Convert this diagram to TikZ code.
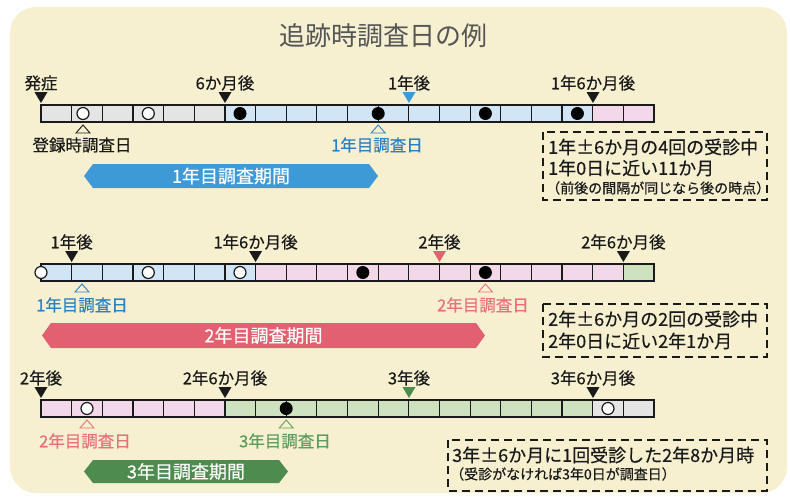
\documentclass[tikz,border=0pt]{standalone}
\usepackage{fontspec}
\setmainfont{Noto Sans CJK JP}
\newfontfamily\medfont{Noto Sans CJK JP}[FakeBold=0.5]
\definecolor{cream}{HTML}{F7F0D0}
\definecolor{cgray}{HTML}{E4E4E4}
\definecolor{cblue}{HTML}{D2E5F5}
\definecolor{cpink}{HTML}{F3D8EA}
\definecolor{cgreen}{HTML}{CFE2C0}
\definecolor{bblue}{HTML}{3E9AD6}
\definecolor{tblue}{HTML}{2B80C2}
\definecolor{bpink}{HTML}{E2606F}
\definecolor{tpink}{HTML}{E8707E}
\definecolor{bgreen}{HTML}{4D8B4F}
\definecolor{tgreen}{HTML}{5E9C5E}
\definecolor{titlegray}{HTML}{555555}
\definecolor{ink}{HTML}{1A1A1A}
\newcommand\cw{30.65}
\newcommand\tmark[3]{\fill[#3] ({#1-6.5},{#2-13}) -- ({#1+6.5},{#2-13}) -- ({#1},{#2-2}) -- cycle;}
\newcommand\omark[3]{\draw[#3, line width=0.9pt] ({#1},{#2+3}) -- ({#1+7},{#2+11}) -- ({#1-7},{#2+11}) -- cycle;}
\newcommand\band[6]{\fill[#5] (#1,{(#3+#4)/2}) -- ({#1+9},#3) -- ({#2-9},#3) -- (#2,{(#3+#4)/2}) -- ({#2-9},#4) -- ({#1+9},#4) -- cycle;
  \node[bandtxt] at ({(#1+#2)/2},{(#3+#4)/2}) {#6};}
\tikzset{
  lbl/.style={font=\medfont\fontsize{16.5}{18}\selectfont, text=ink, inner sep=0pt},
  bandtxt/.style={font=\medfont\fontsize{18}{20}\selectfont, text=white, inner sep=0pt},
  boxtxt/.style={font=\medfont\fontsize{18}{20}\selectfont, text=ink, inner sep=0pt, anchor=west},
  smalltxt/.style={font=\medfont\fontsize{14}{16}\selectfont, text=ink, inner sep=0pt, anchor=west},
  dbox/.style={draw=ink, line width=2.4pt, dash pattern=on 8pt off 5pt},
  barline/.style={draw=ink, line width=1.2pt},
  opendot/.style={circle, draw=ink, fill=white, line width=1.2pt, minimum size=12pt, inner sep=0pt},
  fulldot/.style={circle, fill=black, minimum size=13pt, inner sep=0pt},
}
\begin{document}
\begin{tikzpicture}[x=1pt,y=-1pt]
\useasboundingbox (0,0) rectangle (790,499);
\fill[cream, rounded corners=26pt] (10,7) rectangle (787,493);
\node[font=\fontsize{26}{28}\selectfont, text=titlegray, inner sep=0pt] (title) at (383,36) {追跡時調査日の例};

% ---------- Row 1 ----------
\fill[cgray] (41,105) rectangle ({41+6*\cw},122);
\fill[cblue] ({41+6*\cw},105) rectangle ({41+18*\cw},122);
\fill[cpink] ({41+18*\cw},105) rectangle (654,122);
\draw[barline] (41,105) rectangle (654,122);
\foreach \i in {1,...,19} \draw[barline] ({41+\i*\cw},105) -- ({41+\i*\cw},122);
\tmark{41}{105}{ink}
\tmark{225}{105}{ink}
\tmark{409}{105}{bblue}
\tmark{593}{105}{ink}
\node[lbl] (a0) at (41,83) {発症};
\node[lbl] (a6) at (225,83) {6か月後};
\node[lbl] (a12) at (409,83) {1年後};
\node[lbl] (a18) at (593,83) {1年6か月後};
\node[opendot] (c11) at (83,113.5) {};
\node[opendot] (c12) at (148.3,113.5) {};
\node[fulldot] (c13) at (240,113.5) {};
\node[fulldot] (c14) at (378.2,113.5) {};
\node[fulldot] (c15) at (485.4,113.5) {};
\node[fulldot] (c16) at (577.4,113.5) {};
\omark{83}{122}{ink}
\omark{378.2}{122}{tblue}
\node[lbl] (d11) at (82,145) {登録時調査日};
\node[lbl, text=tblue] (d12) at (377,145) {1年目調査日};
\band{84}{378}{164}{188}{bblue}{1年目調査期間}
\draw[dbox] (543,132) rectangle (767,200);
\node[boxtxt] (b11) at (548,147) {1年±6か月の4回の受診中};
\node[boxtxt] (b12) at (548,168) {1年0日に近い11か月};
\node[smalltxt] (b13) at (546,188) {（前後の間隔が同じなら後の時点）};

% ---------- Row 2 ----------
\fill[cblue] (41,264) rectangle ({41+7*\cw},281);
\fill[cpink] ({41+7*\cw},264) rectangle ({41+19*\cw},281);
\fill[cgreen] ({41+19*\cw},264) rectangle (654,281);
\draw[barline] (41,264) rectangle (654,281);
\foreach \i in {1,...,19} \draw[barline] ({41+\i*\cw},264) -- ({41+\i*\cw},281);
\tmark{71.65}{264}{ink}
\tmark{255.6}{264}{ink}
\tmark{439.5}{264}{bpink}
\tmark{623.4}{264}{ink}
\node[lbl] (e1) at (71.65,242) {1年後};
\node[lbl] (e2) at (255.6,242) {1年6か月後};
\node[lbl] (e3) at (439.5,242) {2年後};
\node[lbl] (e4) at (623.4,242) {2年6か月後};
\node[opendot] (c21) at (41,272.5) {};
\node[opendot] (c22) at (148.3,272.5) {};
\node[opendot] (c23) at (240,272.5) {};
\node[fulldot] (c24) at (362.8,272.5) {};
\node[fulldot] (c25) at (485.4,272.5) {};
\omark{82}{281}{tblue}
\omark{485.4}{281}{tpink}
\node[lbl, text=tblue] (d21) at (82,305) {1年目調査日};
\node[lbl, text=tpink] (d22) at (483,305) {2年目調査日};
\band{42}{485}{323}{348}{bpink}{2年目調査期間}
\draw[dbox] (543,304) rectangle (767,357);
\node[boxtxt] (b21) at (548,319) {2年±6か月の2回の受診中};
\node[boxtxt] (b22) at (548,341) {2年0日に近い2年1か月};

% ---------- Row 3 ----------
\fill[cpink] (41,400) rectangle ({41+6*\cw},417);
\fill[cgreen] ({41+6*\cw},400) rectangle ({41+18*\cw},417);
\fill[cgray] ({41+18*\cw},400) rectangle (654,417);
\draw[barline] (41,400) rectangle (654,417);
\foreach \i in {1,...,19} \draw[barline] ({41+\i*\cw},400) -- ({41+\i*\cw},417);
\tmark{41}{400}{ink}
\tmark{225}{400}{ink}
\tmark{409}{400}{bgreen}
\tmark{593}{400}{ink}
\node[lbl] (f1) at (41,378) {2年後};
\node[lbl] (f2) at (225,378) {2年6か月後};
\node[lbl] (f3) at (409,378) {3年後};
\node[lbl] (f4) at (593,378) {3年6か月後};
\node[opendot] (c31) at (87,408.5) {};
\node[fulldot] (c32) at (286.2,408.5) {};
\node[opendot] (c33) at (608,408.5) {};
\omark{87}{417}{tpink}
\omark{286.2}{417}{tgreen}
\node[lbl, text=tpink] (d31) at (85,441) {2年目調査日};
\node[lbl, text=tgreen] (d32) at (285,441) {3年目調査日};
\band{84}{288}{460}{483}{bgreen}{3年目調査期間}
\draw[dbox] (448,440) rectangle (767,491);
\node[boxtxt] (b31) at (452,455) {3年±6か月に1回受診した2年8か月時};
\node[smalltxt] (b32) at (450,474) {（受診がなければ3年0日が調査日）};
\end{tikzpicture}
\end{document}
